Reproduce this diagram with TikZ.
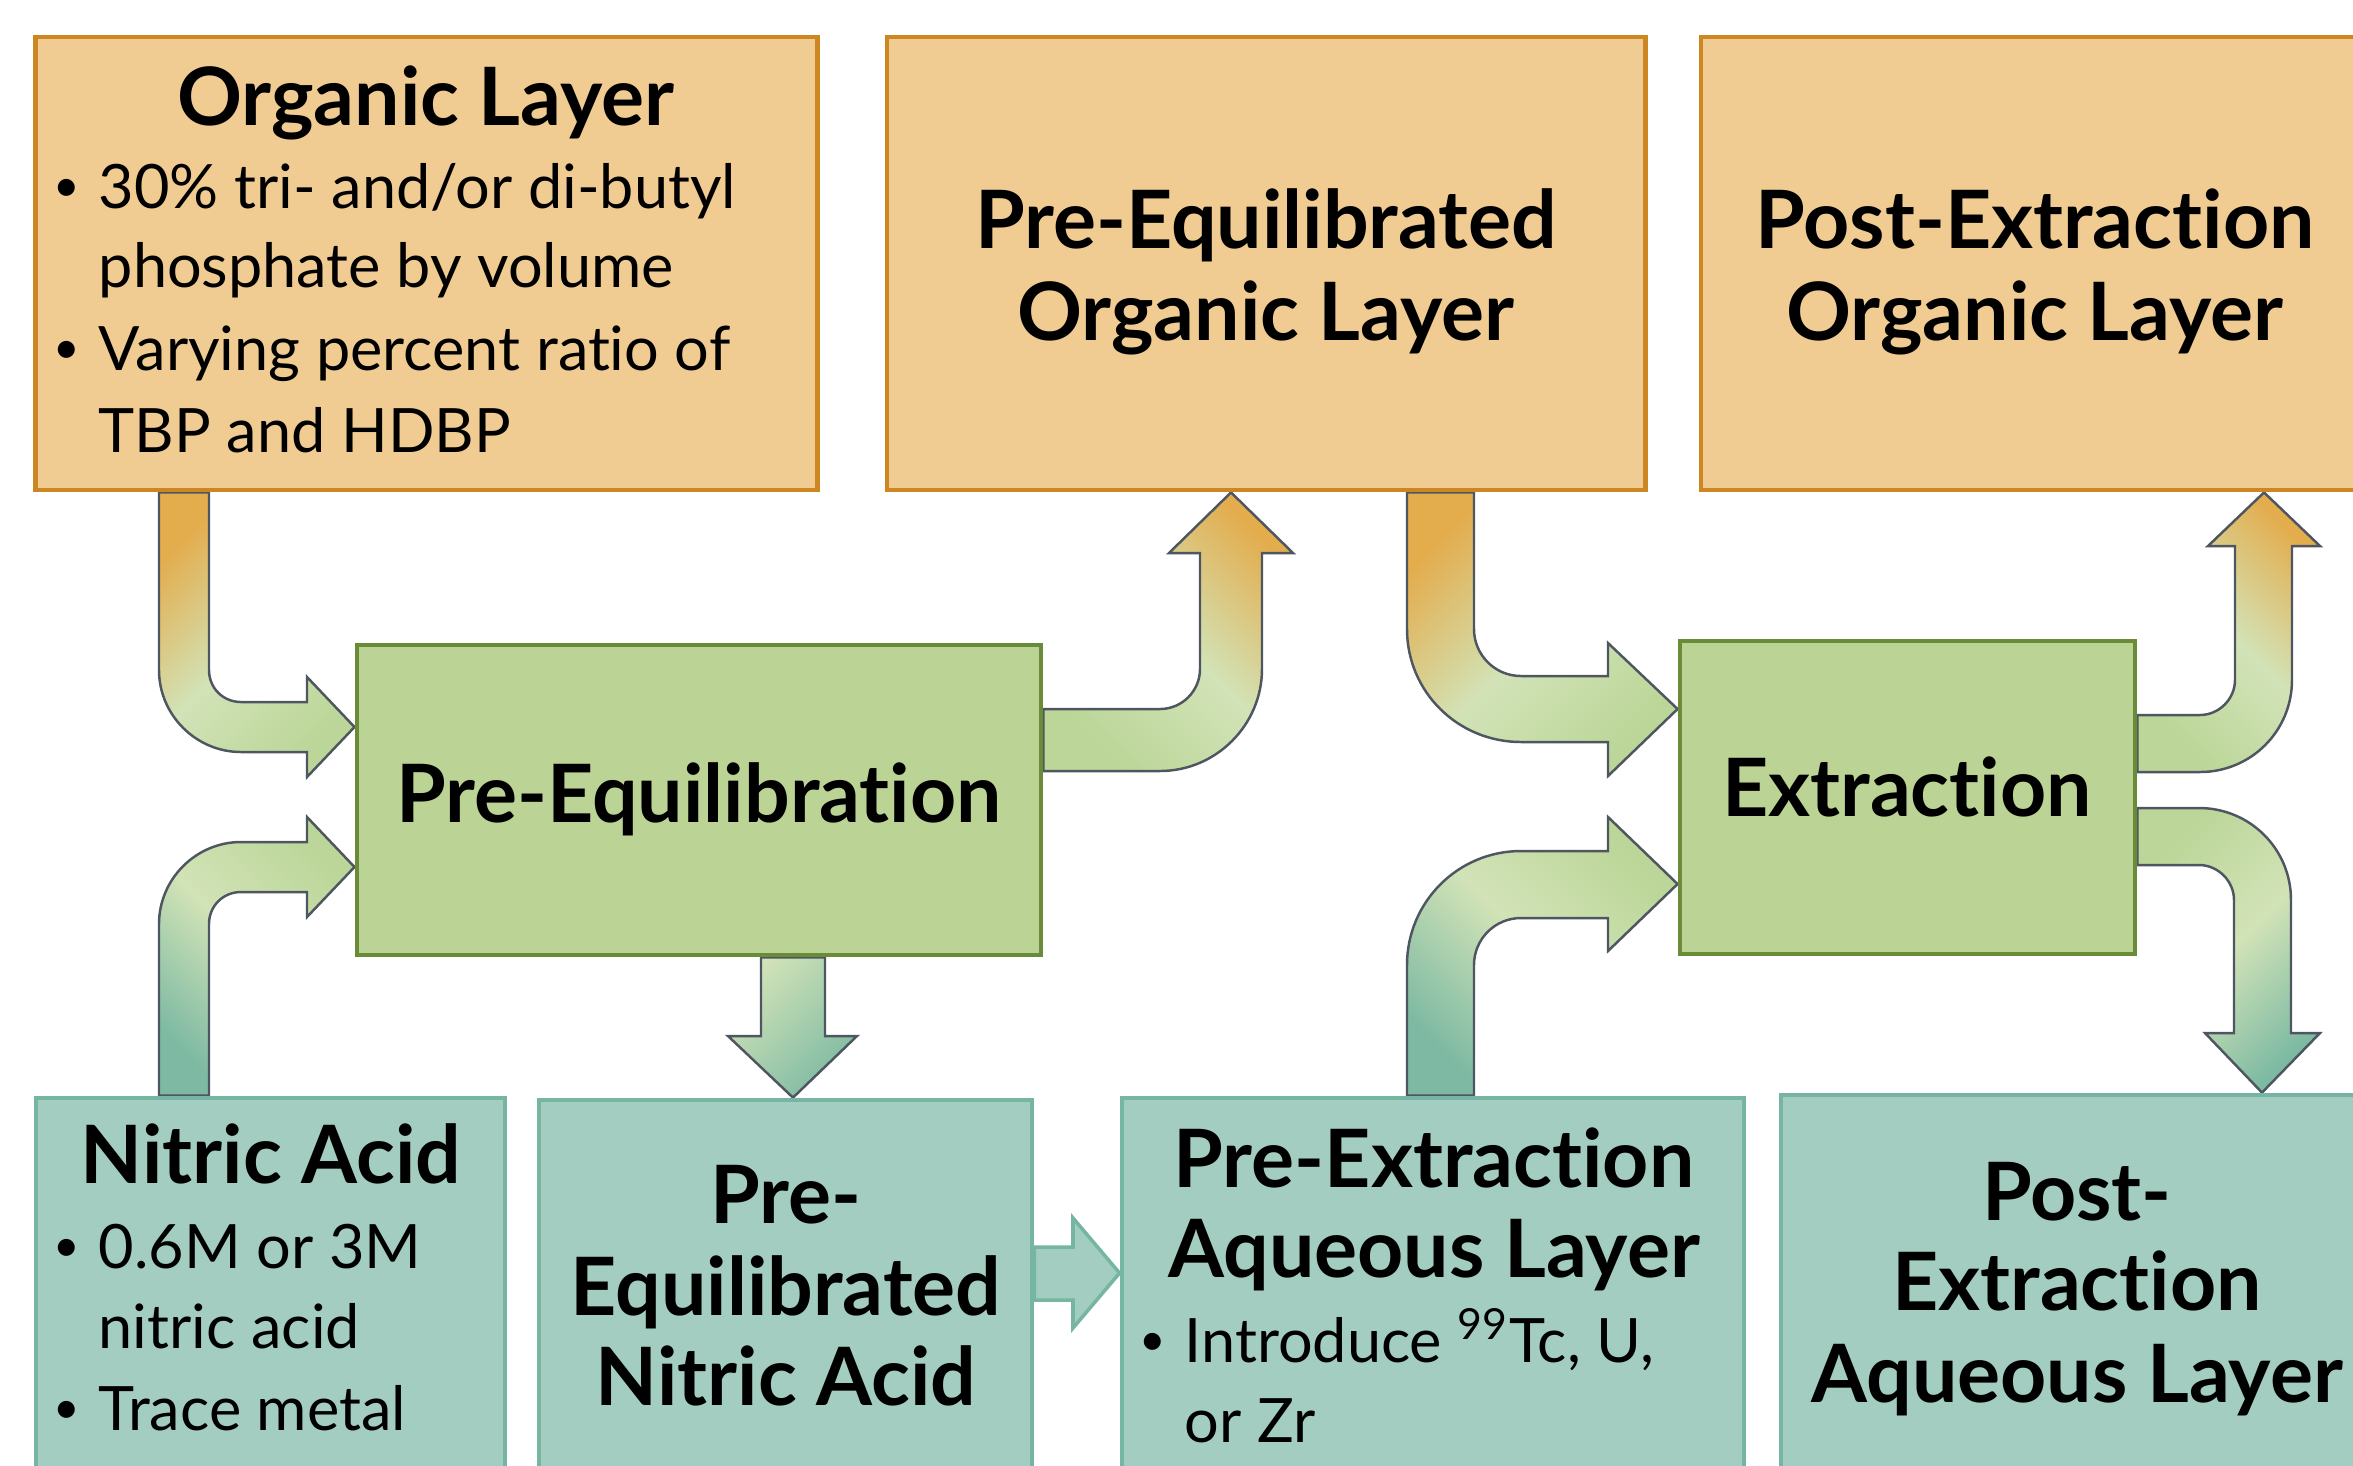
\documentclass[tikz,border=0pt]{standalone}
\usepackage{fontspec}
\setmainfont[Ligatures={NoCommon,NoContextual}]{Lato}
\usetikzlibrary{backgrounds}

\definecolor{orgfill}{HTML}{F0CB92}
\definecolor{orgline}{HTML}{CD8722}
\definecolor{grnfill}{HTML}{BBD394}
\definecolor{grnline}{HTML}{6A8C38}
\definecolor{aqfill}{HTML}{A3CDC0}
\definecolor{aqline}{HTML}{76B5A2}
\definecolor{floworg}{HTML}{E3AD4E}
\definecolor{flowpale}{HTML}{D2E3B7}
\definecolor{flowgrn}{HTML}{BBD698}
\definecolor{flowaq}{HTML}{7EBAA3}
\definecolor{flowline}{HTML}{4E5661}

\newcommand{\itembul}{\llap{\raisebox{0.1em}{\fontsize{13}{13}\selectfont\textbullet}\hspace{0.3em}}}

\tikzset{
  box/.style={draw, line width=1.3pt, inner sep=0pt},
  orgbox/.style={box, fill=orgfill, draw=orgline},
  grnbox/.style={box, fill=grnfill, draw=grnline},
  aqbox/.style={box, fill=aqfill, draw=aqline},
  title/.style={font=\bfseries\fontsize{22.9}{27}\selectfont, inner sep=0pt, anchor=base},
  body/.style={font=\fontsize{17.4}{21}\selectfont, inner sep=0pt, anchor=base west},
  flow/.style={draw=flowline, line width=0.7pt},
  feedorg/.style={flow, top color=floworg, bottom color=flowgrn, middle color=flowpale, shading angle=45},
  feedaq/.style={flow, top color=flowgrn, bottom color=flowaq, middle color=flowpale, shading angle=-45},
  outorg/.style={flow, top color=floworg, bottom color=flowgrn, middle color=flowpale, shading angle=-45},
  outaq/.style={flow, top color=flowgrn, bottom color=flowaq, middle color=flowpale, shading angle=45},
  drop/.style={flow, top color=flowpale, bottom color=flowaq, shading angle=45}
}

\begin{document}
\begin{tikzpicture}[x=0.01cm, y=-0.01cm]
\useasboundingbox (0,0) rectangle (2353,1465);
\clip (0,0) rectangle (2353,1465);

% organic layers
\node[orgbox, minimum width=7.81cm, minimum height=4.53cm] (org) at (426.5,263.5) {};
\node[orgbox, minimum width=7.58cm, minimum height=4.53cm] (peo) at (1266,263.5) {};
\node[orgbox, minimum width=6.71cm, minimum height=4.53cm] (pxo) at (2036.5,263.5) {};

% steps
\node[grnbox, minimum width=6.84cm, minimum height=3.10cm] (peq) at (699,800) {};
\node[grnbox, minimum width=4.55cm, minimum height=3.13cm] (ext) at (1907.5,797.5) {};

% aqueous layers
\node[aqbox, minimum width=4.69cm, minimum height=4.22cm] (nit) at (270.5,1309) {};
\node[aqbox, minimum width=4.93cm, minimum height=4.20cm] (pen) at (785.5,1310) {};
\node[aqbox, minimum width=6.22cm, minimum height=4.22cm] (pxa) at (1433,1309) {};
\node[aqbox, minimum width=5.94cm, minimum height=4.25cm] (pta) at (2078,1307.5) {};

% texts
\node[title] (orgT) at (426,125) {Organic Layer};
\node[body] (org1) at (98,208) {\itembul 30\% tri- and/or di-butyl};
\node[body] (org2) at (98,287) {phosphate by volume};
\node[body] (org3) at (98,370) {\itembul Varying percent ratio of};
\node[body] (org4) at (98,452) {TBP and HDBP};

\node[title] (peoT1) at (1266,248) {Pre-Equilibrated};
\node[title] (peoT2) at (1266,340) {Organic Layer};

\node[title] (pxoT1) at (2035,248) {Post-Extraction};
\node[title] (pxoT2) at (2035,340) {Organic Layer};

\node[title] (peqT) at (699,822) {Pre-Equilibration};
\node[title] (extT) at (1907,816) {Extraction};

\node[title] (nitT) at (271,1183) {Nitric Acid};
\node[body] (nit1) at (98,1268) {\itembul 0.6M or 3M};
\node[body] (nit2) at (98,1348) {nitric acid};
\node[body] (nit3) at (98,1430) {\itembul Trace metal};

\node[title] (penT1) at (786,1223) {Pre-};
\node[title] (penT2) at (786,1315) {Equilibrated};
\node[title] (penT3) at (786,1405) {Nitric Acid};

\node[title] (pxaT1) at (1434,1187) {Pre-Extraction};
\node[title] (pxaT2) at (1434,1277) {Aqueous Layer};
\node[body] (pxa1) at (1184,1362) {\itembul Introduce \textsuperscript{99}Tc, U,};
\node[body] (pxa2) at (1184,1442) {or Zr};

\node[title] (ptaT1) at (2077,1220) {Post-};
\node[title] (ptaT2) at (2077,1310) {Extraction};
\node[title] (ptaT3) at (2077,1402) {Aqueous Layer};

% flows, behind the boxes
\begin{scope}[on background layer]
\draw[feedorg] (209,0 |- org.south) -- (209,670) .. controls +(0,18) and +(-18,0) .. (241,702) -- (307,702) -- (307,677) -- (peq.west |- 0,727) -- (307,777) -- (307,752) -- (241,752) .. controls +(-45,0) and +(0,45) .. (159,670) -- (159,0 |- org.south) -- cycle;
\draw[feedaq] (209,0 |- nit.north) -- (209,924) .. controls +(0,-18) and +(-18,0) .. (241,892) -- (307,892) -- (307,917) -- (peq.west |- 0,867) -- (307,817) -- (307,842) -- (241,842) .. controls +(-45,0) and +(0,-45) .. (159,924) -- (159,0 |- nit.north) -- cycle;
\draw[outorg] (peq.east |- 0,709) -- (1160,709) .. controls +(22,0) and +(0,22) .. (1200,669) -- (1200,553) -- (1169,553) -- (1231,0 |- peo.south) -- (1293,553) -- (1262,553) -- (1262,669) .. controls +(0,56) and +(56,0) .. (1160,771) -- (peq.east |- 0,771) -- cycle;
\draw[drop] (761,0 |- peq.south) -- (761,1036) -- (728,1036) -- (793,0 |- pen.north) -- (857,1036) -- (825,1036) -- (825,0 |- peq.south) -- cycle;
\draw[draw=aqline, fill=aqfill, line width=1pt] (pen.east |- 0,1247) -- (1073,1247) -- (1073,1218) -- (pxa.west |- 0,1273) -- (1073,1328) -- (1073,1300) -- (pen.east |- 0,1300) -- cycle;

\draw[feedorg] (1474,0 |- peo.south) -- (1474,629) .. controls +(0,26) and +(-26,0) .. (1521,676) -- (1608,676) -- (1608,643) -- (ext.west |- 0,709) -- (1608,776) -- (1608,742) -- (1521,742) .. controls +(-63,0) and +(0,63) .. (1407,629) -- (1407,0 |- peo.south) -- cycle;
\draw[feedaq] (1474,0 |- pxa.north) -- (1474,965) .. controls +(0,-26) and +(-26,0) .. (1521,918) -- (1608,918) -- (1608,951) -- (ext.west |- 0,884) -- (1608,817) -- (1608,851) -- (1521,851) .. controls +(-63,0) and +(0,-63) .. (1407,965) -- (1407,0 |- pxa.north) -- cycle;
\draw[outorg] (ext.east |- 0,715) -- (2200,715) .. controls +(19,0) and +(0,19) .. (2235,680) -- (2235,546) -- (2208,546) -- (2264,0 |- pxo.south) -- (2320,546) -- (2292,546) -- (2292,680) .. controls +(0,51) and +(51,0) .. (2200,772) -- (ext.east |- 0,772) -- cycle;
\draw[outaq] (ext.east |- 0,808) -- (2199,808) .. controls +(51,0) and +(0,-51) .. (2291,900) -- (2291,1033) -- (2320,1033) -- (2262,0 |- pta.north) -- (2205,1033) -- (2234,1033) -- (2234,900) .. controls +(0,-19) and +(19,0) .. (2199,865) -- (ext.east |- 0,865) -- cycle;
\end{scope}
\end{tikzpicture}
\end{document}
